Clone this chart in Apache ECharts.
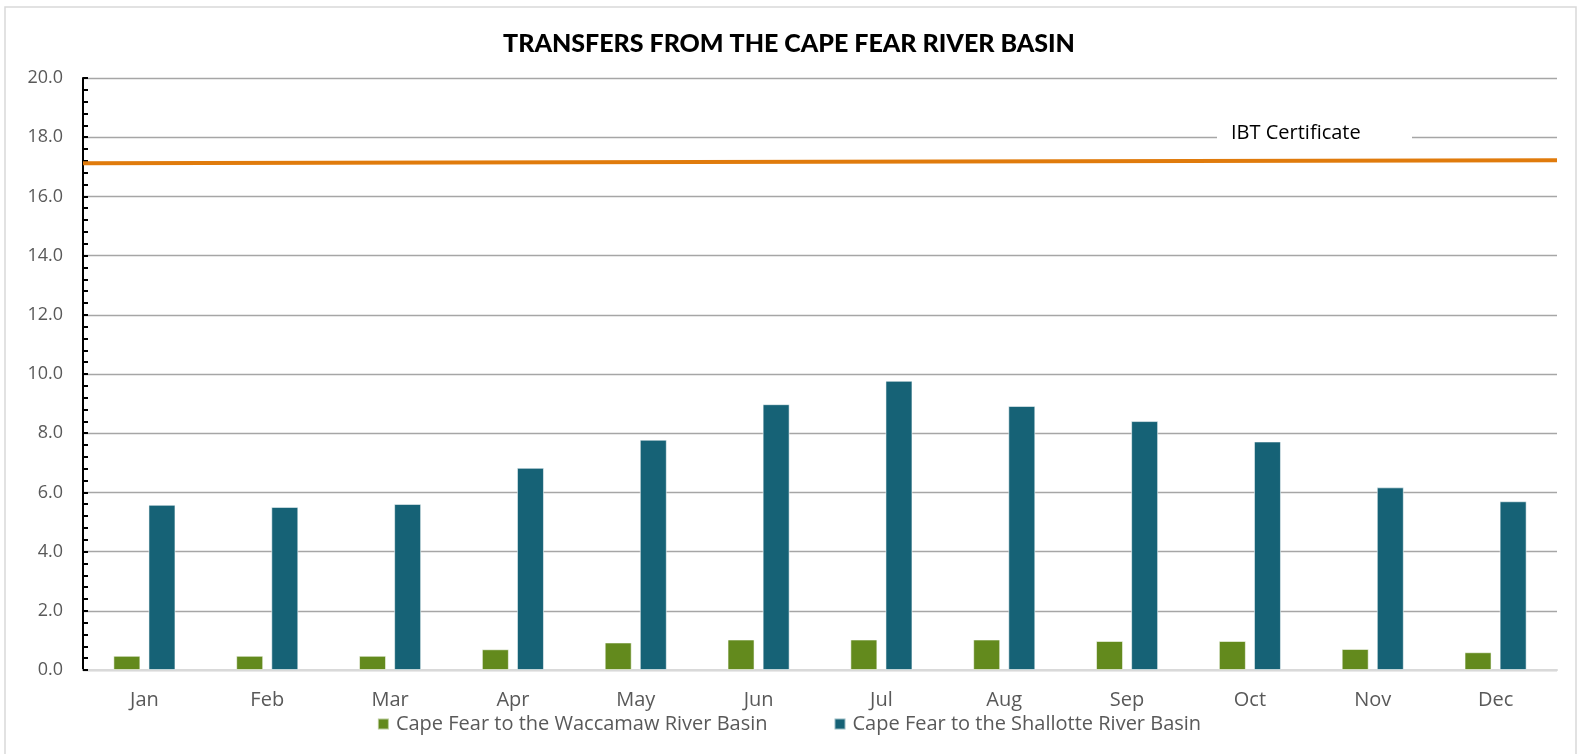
<!DOCTYPE html>
<html>
<head>
<meta charset="utf-8">
<script src="https://cdn.jsdelivr.net/npm/echarts@6/dist/echarts.min.js"></script>
<style>
html,body{margin:0;padding:0;background:#fff;}
#chart{width:1578px;height:754px;}
</style>
</head>
<body>
<div id="chart"></div>
<script>
const months = ['Jan','Feb','Mar','Apr','May','Jun','Jul','Aug','Sep','Oct','Nov','Dec'];
const waccamaw = [0.48,0.48,0.48,0.70,0.93,1.03,1.03,1.03,0.98,0.98,0.71,0.60];
const shallotte = [5.58,5.51,5.61,6.83,7.78,8.98,9.77,8.92,8.41,7.72,6.17,5.70];
const ibtCertificate = [[0,17.12],[1,17.22]];
const seriesNames = ['Cape Fear to the Waccamaw River Basin','Cape Fear to the Shallotte River Basin'];
const titleText = 'TRANSFERS FROM THE CAPE FEAR RIVER BASIN';
const ibtLabel = 'IBT Certificate';

const chart = echarts.init(document.getElementById('chart'));
const labelFont = '"Open Sans", sans-serif';
chart.setOption({
  animation: false,
  backgroundColor: '#fff',
  title: {
    text: titleText,
    left: 'center',
    top: 26,
    textStyle: {fontFamily: 'Lato, sans-serif', fontWeight: 900, fontSize: 25, color: '#000'}
  },
  legend: {
    bottom: 15,
    left: 'center',
    itemWidth: 11,
    itemHeight: 11,
    itemGap: 66,
    icon: 'rect',
    data: seriesNames,
    textStyle: {fontFamily: labelFont, fontSize: 20, color: '#595959', padding: [0, 0, 0, 2]}
  },
  grid: {left: 83, right: 21, top: 78, bottom: 84, containLabel: false},
  xAxis: [{
    type: 'category',
    data: months,
    axisLine: {lineStyle: {color: '#d9d9d9', width: 2}},
    axisTick: {show: false},
    axisLabel: {fontFamily: labelFont, fontSize: 20, color: '#595959', margin: 20}
  }, {
    type: 'value', min: 0, max: 1, show: false
  }],
  yAxis: {
    type: 'value',
    min: 0, max: 20, interval: 2,
    axisLine: {show: true, lineStyle: {color: '#000', width: 2}},
    axisTick: {show: true, inside: true, length: 5, lineStyle: {color: '#000', width: 2}},
    minorTick: {show: true, splitNumber: 5, length: 5, lineStyle: {color: '#000', width: 2}},
    splitLine: {lineStyle: {color: '#a6a6a6', width: 1.3}},
    axisLabel: {fontFamily: labelFont, fontSize: 18, color: '#595959', margin: 20,
      formatter: v => v.toFixed(1)}
  },
  series: [{
    name: seriesNames[0], type: 'bar', data: waccamaw,
    barWidth: 27, barGap: '30%',
    itemStyle: {color: '#638a1d', borderColor: 'rgba(255,255,255,0.55)', borderWidth: 1}
  }, {
    name: seriesNames[1], type: 'bar', data: shallotte,
    barWidth: 27, barGap: '30%',
    itemStyle: {color: '#166276', borderColor: 'rgba(255,255,255,0.55)', borderWidth: 1}
  }, {
    name: ibtLabel, type: 'line', xAxisIndex: 1, data: ibtCertificate,
    symbol: 'none', lineStyle: {color: '#e07b0c', width: 4}, z: 5
  }],
  graphic: [{
    type: 'rect', shape: {x: 5, y: 7, width: 1571, height: 760},
    style: {fill: 'none', stroke: '#d9d9d9', lineWidth: 1.5}, z: -1
  }, {
    type: 'rect', shape: {x: 1217, y: 128, width: 195, height: 16},
    style: {fill: '#fff'}, z: 50
  }, {
    type: 'text', left: 1231, top: 123,
    style: {text: ibtLabel, fontFamily: labelFont, fontSize: 20, fill: '#000'}, z: 51
  }]
});
</script>
</body>
</html>
